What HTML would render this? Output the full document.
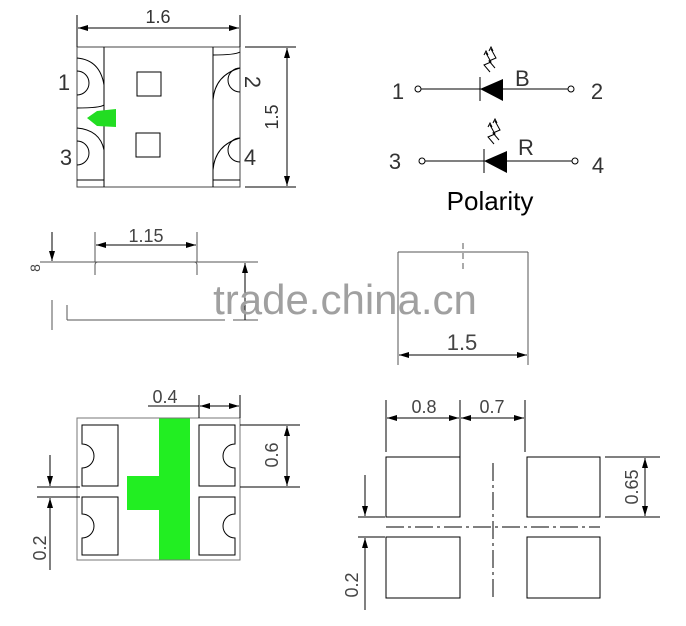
<!DOCTYPE html>
<html><head><style>body{margin:0;background:#fff}svg{display:block}text{font-family:"Liberation Sans",sans-serif}</style></head>
<body>
<svg width="686" height="626" viewBox="0 0 686 626" xmlns="http://www.w3.org/2000/svg">
<defs>
<marker id="a" viewBox="0 0 10 6" refX="10" refY="3" markerWidth="14" markerHeight="6" markerUnits="userSpaceOnUse" orient="auto-start-reverse"><path d="M0,0L10,3L0,6z" fill="#000"/></marker>
</defs>
<g stroke="#000" stroke-width="1" fill="none">
<rect x="77" y="47" width="163" height="140" stroke="#444"/>
<line x1="104" y1="47" x2="104" y2="187"/><line x1="213" y1="47" x2="213" y2="187"/>
<path d="M77,71 A12,12 0 0 1 77,95" /><path d="M77,141 A12,12 0 0 1 77,165"/>
<path d="M240,68 A12,12 0 0 0 240,92"/><path d="M240,138 A12,12 0 0 0 240,162"/>
<path d="M77,58 Q100,60 104,85"/><path d="M77,108 Q100,108 104,105"/><path d="M77,128 Q100,130 104,150"/><path d="M77,180 L104,180"/>
<path d="M213,55 Q235,55 240,52"/><path d="M213,100 Q215,75 240,68"/><path d="M213,170 Q215,145 240,138"/><path d="M213,180 L240,180"/>
<rect x="137" y="72" width="24" height="24"/><rect x="136" y="133" width="24" height="24"/>
<line x1="77" y1="15" x2="77" y2="47"/><line x1="240" y1="15" x2="240" y2="47"/>
<line x1="78" y1="28" x2="239" y2="28" marker-start="url(#a)" marker-end="url(#a)"/>
<line x1="245" y1="47" x2="296" y2="47"/><line x1="245" y1="187" x2="296" y2="187"/>
<line x1="287" y1="48" x2="287" y2="186" marker-start="url(#a)" marker-end="url(#a)"/>
</g>
<polygon points="87,118 97,111 116,109 116,127 97,126" fill="#22dd22"/>
<g font-size="22" fill="#333">
<text x="158" y="23" text-anchor="middle" font-size="18">1.6</text>
<text x="64" y="90" text-anchor="middle">1</text><text x="66" y="165" text-anchor="middle">3</text>
<text x="252" y="89" text-anchor="middle" transform="rotate(90 252 82)">2</text><text x="250" y="165" text-anchor="middle">4</text>
<text x="272" y="123" text-anchor="middle" font-size="18" transform="rotate(-90 272 117)">1.5</text>
</g>
<g stroke="#000" fill="none">
<circle cx="418" cy="89" r="3"/><circle cx="571" cy="89" r="3"/>
<line x1="421" y1="89" x2="568" y2="89"/><line x1="480" y1="77" x2="480" y2="101"/>
<circle cx="422" cy="161" r="3"/><circle cx="575" cy="161" r="3"/>
<line x1="425" y1="161" x2="572" y2="161"/><line x1="484" y1="149" x2="484" y2="173"/>
<path d="M490,72 L484,65 L491,62 L486,53 M484,55 L486,51 L488,55 M495,68 L489,61 L496,58 L491,49 M489,51 L491,47 L493,51"/>
<path d="M494,144 L488,137 L495,134 L490,125 M488,127 L490,123 L492,127 M499,140 L493,133 L500,130 L495,121 M493,123 L495,119 L497,123"/>
</g>
<polygon points="480,89 503,79 503,101" fill="#000"/><polygon points="484,161 507,151 507,173" fill="#000"/>
<g font-size="22" fill="#333">
<text x="398" y="99" text-anchor="middle">1</text><text x="597" y="99" text-anchor="middle">2</text>
<text x="515" y="86">B</text><text x="518" y="155">R</text>
<text x="395" y="169" text-anchor="middle">3</text><text x="598" y="173" text-anchor="middle">4</text>
</g>
<text x="490" y="210" text-anchor="middle" font-size="26" fill="#000">Polarity</text>
<g stroke="#555" fill="none">
<line x1="40" y1="262" x2="258" y2="262"/>
<path d="M95,275 L95,265 Q95,262 98,262 M194,262 Q197,262 197,265 L197,275"/>
<line x1="95" y1="232" x2="95" y2="262"/><line x1="197" y1="232" x2="197" y2="262"/>
<line x1="96" y1="245" x2="196" y2="245" stroke="#000" marker-start="url(#a)" marker-end="url(#a)"/>
<line x1="52" y1="232" x2="52" y2="261" stroke="#000" marker-end="url(#a)"/>
<line x1="52" y1="300" x2="52" y2="330"/>
<line x1="67" y1="305" x2="67" y2="320"/>
<line x1="67" y1="320" x2="225" y2="320"/><line x1="233" y1="320" x2="258" y2="320"/>
<line x1="245" y1="320" x2="245" y2="263" stroke="#000" marker-end="url(#a)"/>
<line x1="398" y1="252" x2="528" y2="252"/>
<line x1="398" y1="252" x2="398" y2="365"/><line x1="528" y1="252" x2="528" y2="365"/>
<line x1="463" y1="243" x2="463" y2="272" stroke-dasharray="6,4"/>
<line x1="399" y1="355" x2="527" y2="355" stroke="#000" marker-start="url(#a)" marker-end="url(#a)"/>
</g>
<text x="40" y="268" font-size="14" fill="#444" text-anchor="middle" transform="rotate(-90 40 268)">8</text>
<text x="146" y="242" font-size="18" fill="#444" text-anchor="middle">1.15</text>
<text x="462" y="350" font-size="22" fill="#444" text-anchor="middle">1.5</text>
<text x="345" y="314" font-size="42" fill="#a0a0a0" text-anchor="middle">trade.china.cn</text>
<rect x="159" y="418" width="31" height="142" fill="#22ee22"/>
<rect x="127" y="476" width="32" height="34" fill="#22ee22"/>
<g stroke="#000" fill="none">
<rect x="77" y="418" width="163" height="142" stroke="#777"/>
<path d="M82,425 L118,425 L118,486 L82,486 L82,468 A12,12 0 0 0 82,444 Z"/>
<path d="M82,497 L118,497 L118,555 L82,555 L82,538 A12,12 0 0 0 82,514 Z"/>
<path d="M235,425 L199,425 L199,486 L235,486 L235,468 A12,12 0 0 1 235,444 Z"/>
<path d="M235,497 L199,497 L199,555 L235,555 L235,538 A12,12 0 0 1 235,514 Z"/>
<line x1="199" y1="395" x2="199" y2="418"/><line x1="240" y1="395" x2="240" y2="418"/>
<line x1="148" y1="406" x2="199" y2="406"/>
<line x1="200" y1="406" x2="239" y2="406" marker-start="url(#a)" marker-end="url(#a)"/>
<line x1="240" y1="425" x2="300" y2="425"/><line x1="240" y1="487" x2="300" y2="487"/>
<line x1="287" y1="426" x2="287" y2="486" marker-start="url(#a)" marker-end="url(#a)"/>
<line x1="37" y1="487" x2="80" y2="487"/><line x1="37" y1="497" x2="80" y2="497"/>
<line x1="50" y1="455" x2="50" y2="486" marker-end="url(#a)"/>
<line x1="50" y1="570" x2="50" y2="498" marker-end="url(#a)"/>
</g>
<g font-size="18" fill="#444" text-anchor="middle">
<text x="165" y="403">0.4</text>
<text x="272" y="461" transform="rotate(-90 272 455)">0.6</text>
<text x="40" y="554" transform="rotate(-90 40 548)">0.2</text>
</g>
<g stroke="#000" fill="none">
<rect x="386" y="457" width="74" height="60"/><rect x="527" y="457" width="73" height="60"/>
<rect x="386" y="537" width="74" height="61"/><rect x="527" y="537" width="73" height="61"/>
<line x1="493" y1="463" x2="493" y2="600" stroke-dasharray="18,4,3,4"/>
<line x1="386" y1="527" x2="600" y2="527" stroke-dasharray="18,4,3,4"/>
<line x1="386" y1="400" x2="386" y2="452"/><line x1="460" y1="400" x2="460" y2="457"/><line x1="525" y1="400" x2="525" y2="452"/>
<line x1="387" y1="418" x2="459" y2="418" marker-start="url(#a)" marker-end="url(#a)"/>
<line x1="461" y1="418" x2="524" y2="418" marker-start="url(#a)" marker-end="url(#a)"/>
<line x1="605" y1="457" x2="660" y2="457"/><line x1="605" y1="517" x2="660" y2="517"/>
<line x1="645" y1="458" x2="645" y2="516" marker-start="url(#a)" marker-end="url(#a)"/>
<line x1="358" y1="517" x2="385" y2="517"/><line x1="358" y1="537" x2="385" y2="537"/>
<line x1="365" y1="475" x2="365" y2="516" marker-end="url(#a)"/>
<line x1="365" y1="610" x2="365" y2="538" marker-end="url(#a)"/>
</g>
<g font-size="18" fill="#444" text-anchor="middle">
<text x="424" y="413">0.8</text><text x="492" y="413">0.7</text>
<text x="632" y="493" transform="rotate(-90 632 487)">0.65</text>
<text x="352" y="591" transform="rotate(-90 352 585)">0.2</text>
</g>
</svg>
</body></html>
